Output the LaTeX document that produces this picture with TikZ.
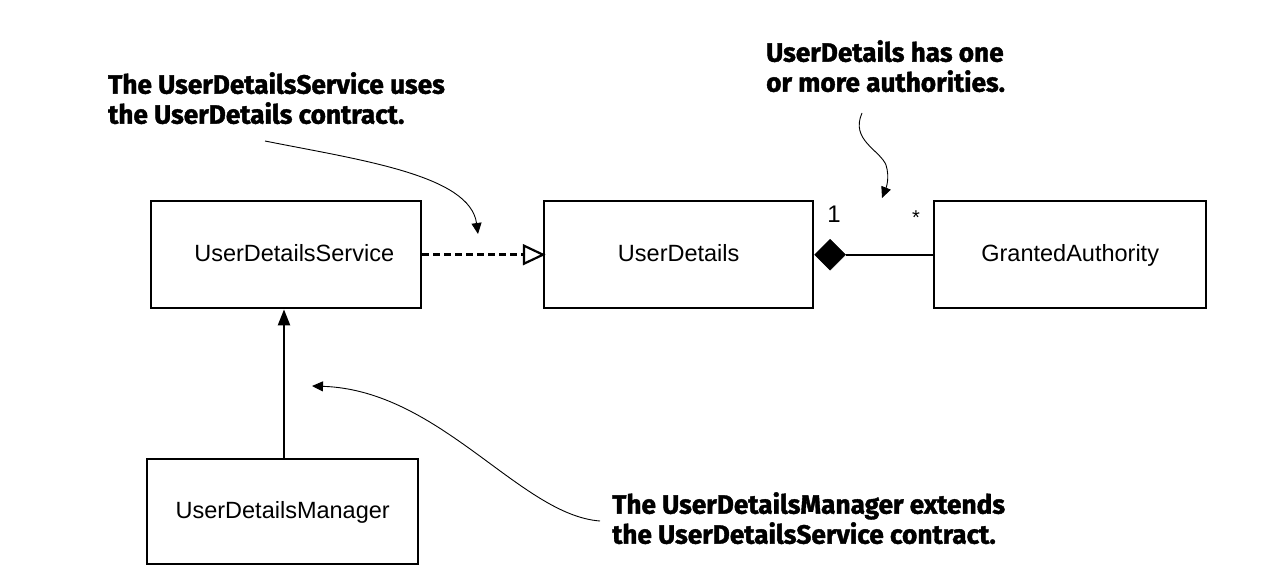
\documentclass[tikz,border=0pt]{standalone}
\usepackage{fontspec}
\setmainfont{Liberation Sans}
\newfontfamily\annfont[FakeStretch=0.99,FakeBold=1.5]{Fira Sans}
\usetikzlibrary{arrows.meta,shapes.geometric,calc}
\begin{document}
\begin{tikzpicture}[x=1pt,y=-1pt,
  cls/.style={draw,line width=2.4pt,anchor=north west,inner sep=0pt,text height=19pt,text depth=5pt,font=\fontsize{23.5}{27}\selectfont},
  ann/.style={anchor=north west,align=left,inner sep=0pt,font=\annfont\bfseries\fontsize{26.5}{30}\selectfont},
  note/.style={line width=0.9pt,-{Triangle[length=11pt,width=10pt]}},
  mult/.style={font=\fontsize{24}{26}\selectfont,inner sep=0pt}]
\useasboundingbox (0,0) rectangle (1282,588);
\node[cls,minimum width=270pt,minimum height=107pt] (uds) at (150,200) {\hspace*{16pt}UserDetailsService};
\node[cls,minimum width=269pt,minimum height=107pt] (ud) at (543,200) {UserDetails};
\node[cls,minimum width=272pt,minimum height=107pt] (ga) at (933,200) {GrantedAuthority};
\node[cls,minimum width=271pt,minimum height=105pt] (udm) at (146,458) {UserDetailsManager};
% realization
\coordinate (rb) at ($(ud.west)+(-19,0)$);
\draw[line width=2.6pt,dash pattern=on 7pt off 4pt] (uds.east) -- (rb);
\draw[line width=2.2pt,line join=miter] (rb) -- ($(rb)+(0,-9)$) -- (ud.west) -- ($(rb)+(0,9)$) -- cycle;
% composition
\node[diamond,fill=black,draw=black,minimum width=31pt,minimum height=31pt,inner sep=0pt,anchor=west] (dia) at (ud.east) {};
\draw[line width=2.4pt] (dia.east) -- (ga.west);
\node[mult] (one) at (834,214) {1};
\node[mult,font=\fontsize{20}{22}\selectfont] (star) at (916,218) {*};
% generalization
\draw[line width=2.4pt,-{Triangle[length=16pt,width=12pt]}] (udm.north -| 284,0) coordinate (gs) -- (uds.south -| gs);
% annotations
\node[ann] (a1) at (108,72) {The UserDetailsService uses\\the UserDetails contract.};
\node[ann] (a2) at (766,40) {UserDetails has one\\or more authorities.};
\node[ann] (a3) at (612,492) {The UserDetailsManager extends\\the UserDetailsService contract.};
\coordinate (s1) at (265,141);
\coordinate (t1) at (478,234);
\draw[note] (s1) .. controls (360,160) and (470,175) .. (t1);
\coordinate (s2) at (862,113);
\coordinate (t2) at (882,198);
\draw[note] (s2) .. controls (850,140) and (880,150) .. (886,165) .. controls (890,178) and (886,188) .. (t2);
\coordinate (s3) at (600,521);
\coordinate (t3) at (312,386);
\draw[note] (s3) .. controls (520,515) and (440,390) .. (t3);
\end{tikzpicture}
\end{document}
